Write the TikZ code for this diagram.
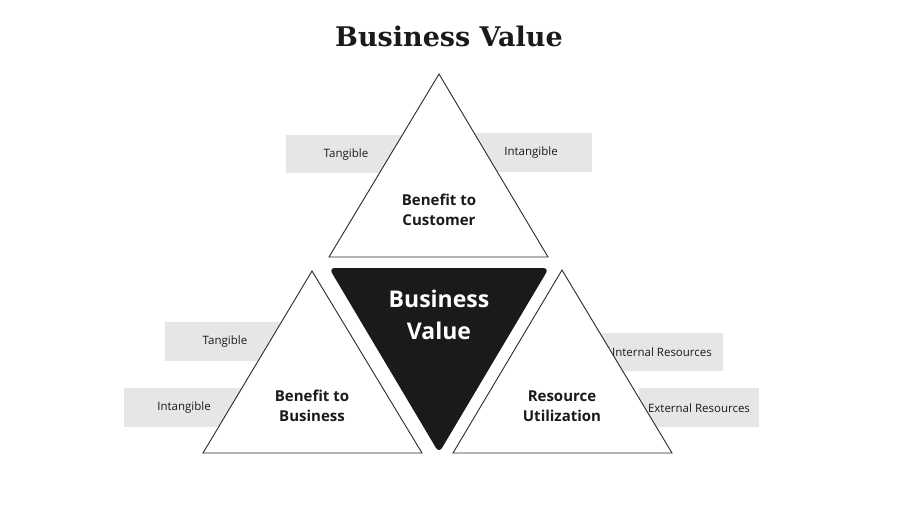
\documentclass[tikz,border=0pt]{standalone}
\usepackage{fontspec}
\setmainfont{Open Sans}
\newfontfamily\titlefont{DejaVu Serif}
\definecolor{boxgray}{HTML}{E6E6E6}
\definecolor{edge}{HTML}{2B2B2B}
\definecolor{ink}{HTML}{1A1A1A}
\begin{document}
\begin{tikzpicture}[x=1pt,y=-1pt,
  tri/.style={fill=white,draw=edge,line width=0.9pt,line join=miter},
  tag/.style={fill=boxgray},
  lab/.style={font=\fontsize{11.5}{13}\selectfont,text=ink,inner sep=0pt},
  trilab/.style={font=\fontsize{15}{20}\selectfont\bfseries,text=ink,align=center,inner sep=0pt},
]
\useasboundingbox (0,0) rectangle (900,506);
\fill[white] (0,0) rectangle (900,506);
% title
\node[font=\titlefont\fontsize{27}{32}\selectfont\bfseries,text=ink] (title) at (449,36) {Business Value};
% grey tags
\fill[tag] (286,135) rectangle (406,173);
\fill[tag] (470,133) rectangle (592,172);
\fill[tag] (165,322) rectangle (285,361);
\fill[tag] (124,388) rectangle (244,427);
\fill[tag] (600,333) rectangle (723,371);
\fill[tag] (639,388) rectangle (759,427);
% triangles
\coordinate (ta) at (439,74); \coordinate (tl) at (329,257); \coordinate (tr) at (548,257);
\coordinate (la) at (312,271); \coordinate (ll) at (203,453); \coordinate (lr) at (422,453);
\coordinate (ra) at (562,270); \coordinate (rl) at (453,453); \coordinate (rr) at (672,453);
\coordinate (cl) at (329,268); \coordinate (cr) at (549,268); \coordinate (cb) at (439,453);
\draw[tri] (ta) -- (tl) -- (tr) -- cycle;
\draw[tri] (la) -- (ll) -- (lr) -- cycle;
\draw[tri] (ra) -- (rl) -- (rr) -- cycle;
\fill[ink,rounded corners=6pt] (cl) -- (cr) -- (cb) -- cycle;
% labels
\node[lab] (t1) at (346,155) {Tangible};
\node[lab] (t2) at (531,153) {Intangible};
\node[lab] (t3) at (225,342) {Tangible};
\node[lab] (t4) at (184,408) {Intangible};
\node[lab] (t5) at (662,352) {Internal Resources};
\node[lab] (t6) at (699,408) {External Resources};
\node[trilab] (cust) at (439,210) {Benefit to\\Customer};
\node[trilab] (bus) at (312,406) {Benefit to\\Business};
\node[trilab] (res) at (562,406) {Resource\\Utilization};
\node[font=\fontsize{23}{32}\selectfont\bfseries,text=white,align=center,inner sep=0pt] (bv) at (439,315) {Business\\Value};
\end{tikzpicture}
\end{document}
